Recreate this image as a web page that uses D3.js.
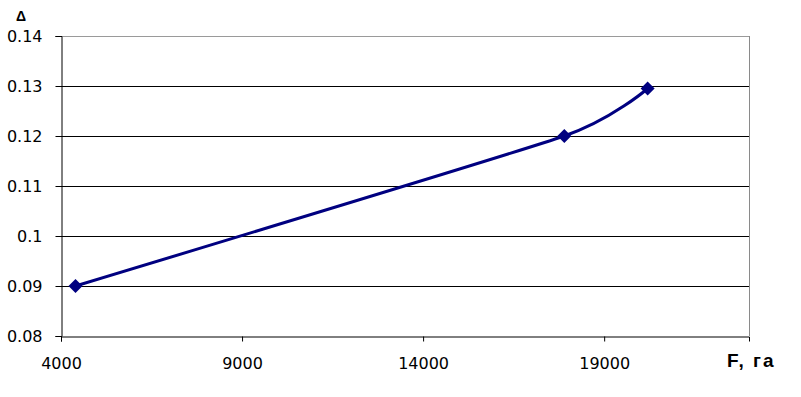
<!DOCTYPE html>
<html>
<head>
<meta charset="utf-8">
<script src="https://cdn.jsdelivr.net/npm/d3@7"></script>
<style>
  body { margin: 0; background: #fff; }
  svg { display: block; }
  .tick text { font-family: "DejaVu Sans", sans-serif; font-size: 16px; fill: #000; }
</style>
</head>
<body>
<svg id="chart" width="801" height="397"></svg>
<script>
// values
const areaF = [4400, 17900, 20200]
const delta = [0.09, 0.12, 0.1295]
const xTicks = [4000, 9000, 14000, 19000]
const yTicks = [0.08, 0.09, 0.1, 0.11, 0.12, 0.13, 0.14]

const margin = { top: 36, right: 52, bottom: 61, left: 61 }
const width = 801, height = 397

const svg = d3.select("#chart")

let xScale = d3.scaleLinear()
    .domain([4000, 23000])
    .range([margin.left, width - margin.right])
let yScale = d3.scaleLinear()
    .domain([0.08, 0.14])
    .range([height - margin.bottom, margin.top])

// horizontal grid
svg.append("g")
    .selectAll("line")
    .data(yTicks.slice(1))
    .enter()
    .append("line")
    .attr("x1", margin.left)
    .attr("x2", width - margin.right)
    .attr("y1", d => Math.round(yScale(d)) + 0.5)
    .attr("y2", d => Math.round(yScale(d)) + 0.5)
    .attr("stroke", (d, i) => i == yTicks.length - 2 ? "#9a9a9a" : "#000")
    .attr("stroke-width", 1)

// right border
svg.append("line")
    .attr("x1", width - margin.right + 0.5)
    .attr("x2", width - margin.right + 0.5)
    .attr("y1", margin.top)
    .attr("y2", height - margin.bottom)
    .attr("stroke", "#8a8a8a")

let xAxis = svg.append("g")
    .attr("transform", "translate(0," + (Math.round(yScale(0.08)) + 0.5) + ")")
    .call(d3.axisBottom(xScale).tickValues(xTicks).tickFormat(d3.format("d")).tickSize(5).tickPadding(16))
let yAxis = svg.append("g")
    .attr("transform", "translate(" + (margin.left + 0.5) + ",0)")
    .call(d3.axisLeft(yScale).tickValues(yTicks).tickFormat(d => d == 0.1 ? "0.1" : d3.format(".2f")(d)).tickSize(6).tickPadding(13))
xAxis.select(".domain").attr("stroke", "#000")
yAxis.select(".domain").attr("stroke", "#000")
svg.selectAll(".tick line").attr("stroke", "#000")
yAxis.selectAll(".tick text").attr("dy", "0.36em")

// smoothed line like the spreadsheet one
let line = d3.line()
    .x((d, i) => xScale(areaF[i]))
    .y((d, i) => yScale(delta[i]))
    .curve(d3.curveCardinal.tension(0.5))

svg.append("path")
    .datum(delta)
    .attr("d", line)
    .attr("fill", "none")
    .attr("stroke", "#000080")
    .attr("stroke-width", 3)

svg.selectAll(".marker")
    .data(delta)
    .enter()
    .append("path")
    .attr("class", "marker")
    .attr("d", d3.symbol().type(d3.symbolDiamond2).size(125))
    .attr("transform", (d, i) => "translate(" + xScale(areaF[i]) + "," + yScale(d) + ")")
    .attr("fill", "#000080")

// axis titles
svg.append("text")
    .attr("x", 16)
    .attr("y", 21)
    .attr("font-family", "Liberation Sans, Arial, sans-serif")
    .attr("font-weight", "bold")
    .attr("font-size", "14px")
    .text("Δ")

svg.append("text")
    .attr("x", 727)
    .attr("y", 367)
    .attr("font-family", "Liberation Sans, Arial, sans-serif")
    .attr("font-weight", "bold")
    .attr("font-size", "19px")
    .attr("letter-spacing", "2px")
    .text("F, га")
</script>
</body>
</html>
